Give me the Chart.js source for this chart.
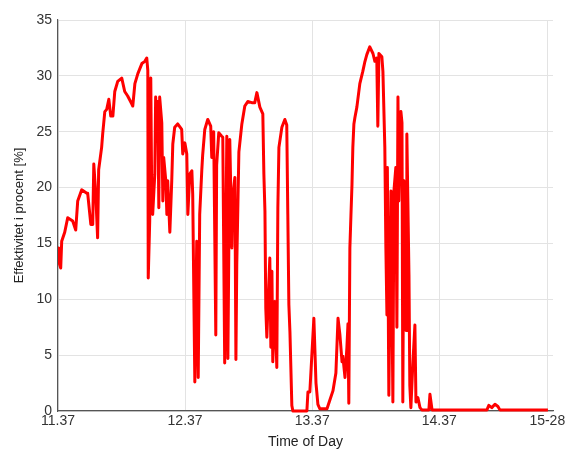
<!DOCTYPE html>
<html>
<head>
<meta charset="utf-8">
<script src="https://cdn.jsdelivr.net/npm/chart.js@4/dist/chart.umd.min.js"></script>
<style>
html,body{margin:0;padding:0;background:#fff;}
#wrap{width:575px;height:451px;}
</style>
</head>
<body>
<div id="wrap"><canvas id="c" width="575" height="451"></canvas></div>
<script>
// minutes after 11:37
const timeMinutes = [0,0.33,1.28,1.75,3.17,4.58,6.94,8.36,9.31,11.2,13.6,14.0,15.5,16.4,16.9,17.8,18.7,19.2,20.6,21.1,22.1,23.0,24.0,24.9,25.9,26.8,28.2,30.1,31.5,32.9,34.8,35.3,36.3,37.7,39.6,41.0,41.9,42.4,42.6,43.3,43.8,44.3,44.7,45.7,46.1,46.6,47.1,47.6,48.0,49.0,49.5,49.9,50.9,51.4,51.8,52.8,53.7,54.2,55.1,56.5,58.4,58.9,59.9,60.8,61.3,62.2,63.2,63.6,64.6,65.5,66.0,66.2,66.9,67.9,68.3,69.3,70.7,72.1,72.6,73.5,74.5,74.9,75.9,77.3,77.8,78.7,79.7,80.2,81.1,82.1,82.5,83.5,84.0,84.4,85.4,86.8,88.2,89.6,91.5,92.9,93.9,95.3,96.7,97.2,97.7,98.1,98.6,99.1,100.0,100.5,101.0,101.4,102.4,103.3,103.8,104.3,105.7,107.1,108.0,108.5,109.0,109.5,110.4,110.9,117.5,118.0,118.9,120.8,121.8,122.7,123.6,127.0,128.4,129.8,131.2,132.2,133.1,134.1,134.5,135.5,136.4,136.9,137.3,137.8,138.3,138.8,139.2,139.7,140.2,141.1,142.5,143.9,144.8,145.8,147.2,148.7,149.6,150.5,151.0,151.5,152.9,153.4,154.3,154.8,155.3,155.5,156.2,157.2,158.1,158.6,159.5,160.0,160.5,160.9,161.9,162.4,162.8,163.3,164.3,164.7,165.7,166.1,166.6,167.5,168.5,169.0,169.9,170.9,171.8,175.1,175.6,176.6,202.5,203.4,204.8,206.3,207.7,208.6,231.3];
const efficiency = [14.6,13.4,12.8,15.2,16.0,17.3,17.0,16.2,18.8,19.8,19.5,19.5,16.7,16.7,22.1,19.5,15.5,21.6,23.6,24.8,26.8,27.0,27.9,26.4,26.4,28.6,29.5,29.8,28.6,28.2,27.5,27.3,29.3,30.2,31.1,31.3,31.6,30.5,11.9,17.0,29.8,18.2,17.6,21.2,28.1,25.0,27.7,18.2,28.1,25.8,18.8,22.7,20.6,17.6,20.6,16.0,20.6,23.9,25.4,25.7,25.2,23.0,24.0,23.0,17.6,21.2,21.5,19.4,2.6,15.2,5.7,3.0,17.6,21.6,22.9,25.2,26.1,25.5,22.7,25.0,6.8,22.0,24.9,24.6,24.5,4.3,24.6,4.7,24.3,14.6,19.1,20.9,4.6,13.1,23.2,25.7,27.3,27.7,27.6,27.6,28.5,27.2,26.6,21.2,17.9,9.2,6.6,9.2,13.7,5.7,12.5,4.4,9.8,3.9,18.2,23.6,25.4,26.1,25.6,17.6,9.5,7.1,0.5,0.0,0.0,1.7,1.7,8.3,2.5,0.6,0.2,0.2,1.0,1.8,3.4,8.3,6.8,4.4,4.9,3.0,5.7,7.8,0.7,14.6,17.5,20.3,23.6,25.7,26.3,27.2,29.3,30.4,31.2,31.9,32.6,32.0,31.3,31.6,25.5,32.0,31.7,30.4,23.6,14.6,8.6,21.8,1.4,19.7,0.8,19.7,21.8,7.5,28.1,18.8,26.8,25.8,0.8,20.6,7.2,24.8,12.2,2.3,0.3,4.1,7.7,0.8,1.2,0.3,0.1,0.1,1.5,0.1,0.1,0.5,0.3,0.6,0.4,0.1,0.1];
const xTickValues = [0,60,120,180,231];
const xTickLabels = ['11.37','12.37','13.37','14.37','15-28'];
const yTickValues = [0,5,10,15,20,25,30,35];

const points = timeMinutes.map((t,i)=>({x:t,y:efficiency[i]}));
const font = {family:'"Liberation Sans", Arial, sans-serif', size:14};

new Chart(document.getElementById('c'), {
  type:'line',
  data:{datasets:[{
    data:points,
    borderColor:'#ff0000',
    borderWidth:3,
    pointRadius:0,
    tension:0,
    fill:false,
    borderJoinStyle:'round',
    clip:{left:0,top:5,right:5,bottom:5}
  }]},
  options:{
    responsive:false,
    animation:false,
    devicePixelRatio:1,
    plugins:{legend:{display:false},tooltip:{enabled:false}},
    layout:{padding:{top:20,right:22,left:0,bottom:0}},
    scales:{
      x:{
        type:'linear',min:0,max:233.7,
        afterBuildTicks:s=>{s.ticks=xTickValues.map(v=>({value:v}));},
        afterFit:s=>{s.height=40;},
        ticks:{autoSkip:false,maxRotation:0,color:'#333',font:font,padding:2,
          callback:(v)=>{const i=xTickValues.indexOf(v);return i>=0?xTickLabels[i]:'';}},
        grid:{color:'#e3e3e3',lineWidth:1,drawTicks:false},
        border:{color:'#555',width:1.2},
        title:{display:true,text:'Time of Day',color:'#222',font:font,padding:{top:0,bottom:0}}
      },
      y:{
        min:0,max:35,
        afterBuildTicks:s=>{s.ticks=yTickValues.map(v=>({value:v}));},
        afterFit:s=>{s.width=58;},
        ticks:{color:'#333',font:font,padding:6},
        grid:{color:'#e3e3e3',lineWidth:1,drawTicks:false},
        border:{color:'#555',width:1.2},
        title:{display:true,text:'Effektivitet i procent [%]',color:'#222',font:{family:font.family,size:13},padding:{top:12,bottom:0}}
      }
    }
  }
});
</script>
</body>
</html>
